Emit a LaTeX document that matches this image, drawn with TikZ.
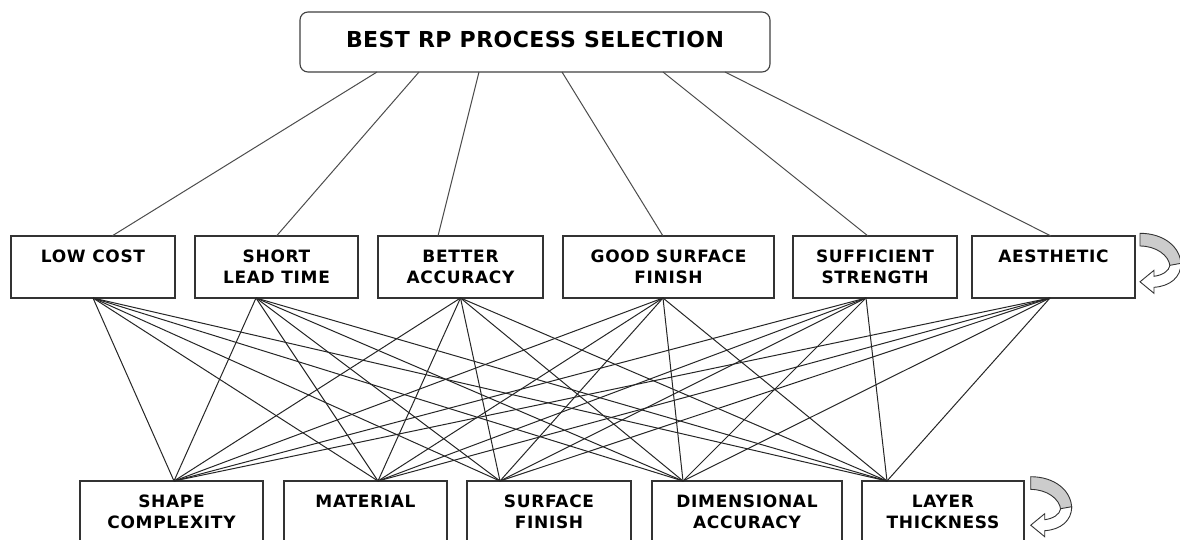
\documentclass[tikz,border=0pt]{standalone}
\usepackage{fontspec}
\newfontfamily\lblfont[LetterSpace=4]{DejaVu Sans}
\newfontfamily\ttlfont[LetterSpace=2]{DejaVu Sans}
\begin{document}
\begin{tikzpicture}[x=1pt,y=-1pt,
  box/.style={draw=black!80, line width=1.1pt, fill=white, minimum height=62pt,
    inner sep=0pt, outer sep=0pt, align=center,
    font=\lblfont\bfseries\fontsize{17}{21}\selectfont},
  goalbox/.style={draw=black!75, line width=1.1pt, fill=white, rounded corners=8pt,
    minimum width=470pt, minimum height=60pt, inner sep=0pt, outer sep=0pt,
    text depth=5pt, font=\ttlfont\bfseries\fontsize{22}{26}\selectfont},
  toplink/.style={draw=black!70, line width=1pt},
  link/.style={draw=black!85, line width=1pt},
  backband/.style={draw=black!80, line width=0.9pt, fill=gray!40},
  frontband/.style={draw=black!80, line width=0.9pt, fill=white},
  curvarrow/.pic={
    \path[backband] (0,0) .. controls (24,0) and (41,14) .. (41,32)
      -- (30,33) .. controls (29,22) and (16,12.7) .. (0,12.7) -- cycle;
    \path[frontband] (41,30) .. controls (41,44) and (30,53) .. (14,54)
      -- (14,60) -- (0,48.5) -- (14,37) -- (14,43)
      .. controls (22,42) and (29,38) .. (30,32) -- cycle;
  }]
\useasboundingbox (0,0) rectangle (1180,540);
\clip (0,0) rectangle (1180,540);

% top
\node[goalbox] (goal) at (535,42) {BEST RP PROCESS SELECTION};

% middle
\node[box, minimum width=164pt] (low)   at (93,267)    {LOW COST\\~};
\node[box, minimum width=163pt] (short) at (276.5,267) {SHORT\\LEAD TIME};
\node[box, minimum width=165pt] (bet)   at (460.5,267) {BETTER\\ACCURACY};
\node[box, minimum width=211pt] (good)  at (668.5,267) {GOOD SURFACE\\FINISH};
\node[box, minimum width=164pt] (suff)  at (875,267)   {SUFFICIENT\\STRENGTH};
\node[box, minimum width=163pt] (aes)   at (1053.5,267){AESTHETIC\\~};

% bottom
\node[box, minimum width=183pt] (shape) at (171.5,512) {SHAPE\\COMPLEXITY};
\node[box, minimum width=163pt] (mat)   at (365.5,512) {MATERIAL\\~};
\node[box, minimum width=164pt] (surf)  at (549,512)   {SURFACE\\FINISH};
\node[box, minimum width=190pt] (dim)   at (747,512)   {DIMENSIONAL\\ACCURACY};
\node[box, minimum width=162pt] (lay)   at (943,512)   {LAYER\\THICKNESS};

% top links
\draw[toplink] ([xshift=-158pt]goal.south) -- ([xshift=19pt]low.north);
\draw[toplink] ([xshift=-116pt]goal.south) -- (short.north);
\draw[toplink] ([xshift=-56pt]goal.south) -- ([xshift=-22.5pt]bet.north);
\draw[toplink] ([xshift=27pt]goal.south) -- ([xshift=-5.5pt]good.north);
\draw[toplink] ([xshift=128pt]goal.south) -- ([xshift=-7pt]suff.north);
\draw[toplink] ([xshift=190pt]goal.south) -- ([xshift=-2.5pt]aes.north);

% ports
\coordinate (lowB)   at (low.south);
\coordinate (shortB) at ([xshift=-20.5pt]short.south);
\coordinate (betB)   at (bet.south);
\coordinate (goodB)  at ([xshift=-5.5pt]good.south);
\coordinate (suffB)  at ([xshift=-9pt]suff.south);
\coordinate (aesB)   at ([xshift=-3.5pt]aes.south);
\coordinate (shapeT) at ([xshift=2.5pt]shape.north);
\coordinate (matT)   at ([xshift=12.5pt]mat.north);
\coordinate (surfT)  at ([xshift=-49pt]surf.north);
\coordinate (dimT)   at ([xshift=-64pt]dim.north);
\coordinate (layT)   at ([xshift=-56pt]lay.north);

\foreach \m in {lowB,shortB,betB,goodB,suffB,aesB}
  \foreach \b in {shapeT,matT,surfT,dimT,layT}
    \draw[link] (\m) -- (\b);

% curved arrows
\pic at ([xshift=5pt,yshift=2.7pt]aes.north east) {curvarrow};
\pic at ([xshift=6.7pt,yshift=4.3pt]lay.north east) {curvarrow};
\end{tikzpicture}
\end{document}
